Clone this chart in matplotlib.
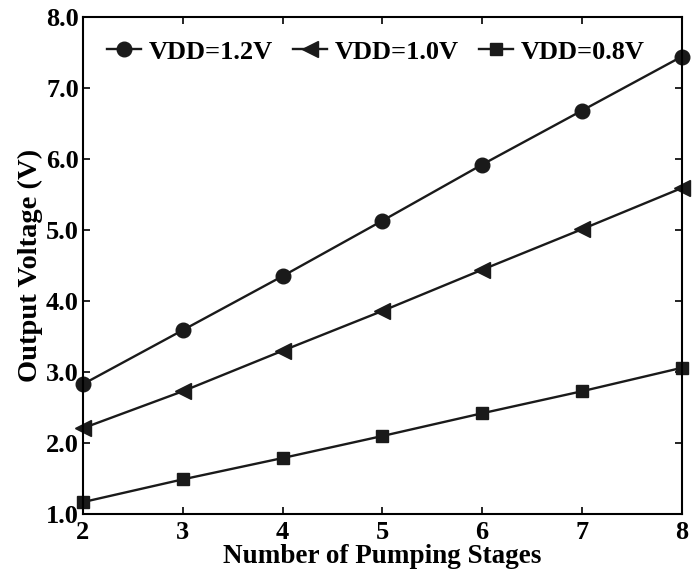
import matplotlib
matplotlib.use("Agg")
import matplotlib.pyplot as plt

# data
stages = [2, 3, 4, 5, 6, 7, 8]
v_12 = [2.83, 3.59, 4.35, 5.13, 5.92, 6.68, 7.44]
v_10 = [2.21, 2.73, 3.30, 3.86, 4.44, 5.01, 5.59]
v_08 = [1.17, 1.49, 1.79, 2.10, 2.42, 2.73, 3.06]
yticks = [1.0, 2.0, 3.0, 4.0, 5.0, 6.0, 7.0, 8.0]

plt.rcParams['font.family'] = ['Liberation Serif', 'DejaVu Serif']
plt.rcParams['font.weight'] = 'bold'

fig = plt.figure(figsize=(6.97, 5.81), dpi=100)
ax = fig.add_axes([0.119, 0.115, 0.859, 0.856])

ax.plot(stages, v_12, color='#1a1a1a', lw=1.7, marker='o', ms=10.5, clip_on=False, label='VDD=1.2V')
ax.plot(stages, v_10, color='#1a1a1a', lw=1.7, marker='<', ms=11, clip_on=False, label='VDD=1.0V')
ax.plot(stages, v_08, color='#1a1a1a', lw=1.7, marker='s', ms=8.5, clip_on=False, label='VDD=0.8V')

ax.set_xlim(2, 8)
ax.set_ylim(1.0, 8.0)
ax.set_yticks(yticks)
ax.set_yticklabels(['%.1f' % v for v in yticks])
ax.set_xticks(stages)
ax.tick_params(direction='in', top=True, right=True, labelsize=19, length=5, width=1.2)
ax.tick_params(axis='x', pad=5)
ax.tick_params(axis='y', pad=3)
for s in ax.spines.values():
    s.set_linewidth(1.5)

ax.set_xlabel('Number of Pumping Stages', fontsize=19.5, fontweight='bold', labelpad=0)
ax.set_ylabel('Output Voltage (V)', fontsize=20.5, fontweight='bold', labelpad=2)

ax.legend(loc='upper left', ncol=3, frameon=False, fontsize=19, handlelength=1.3,
          handletextpad=0.3, columnspacing=0.75, borderaxespad=0.2, bbox_to_anchor=(0.013, 0.985))

fig.savefig('out.png', dpi=100)
